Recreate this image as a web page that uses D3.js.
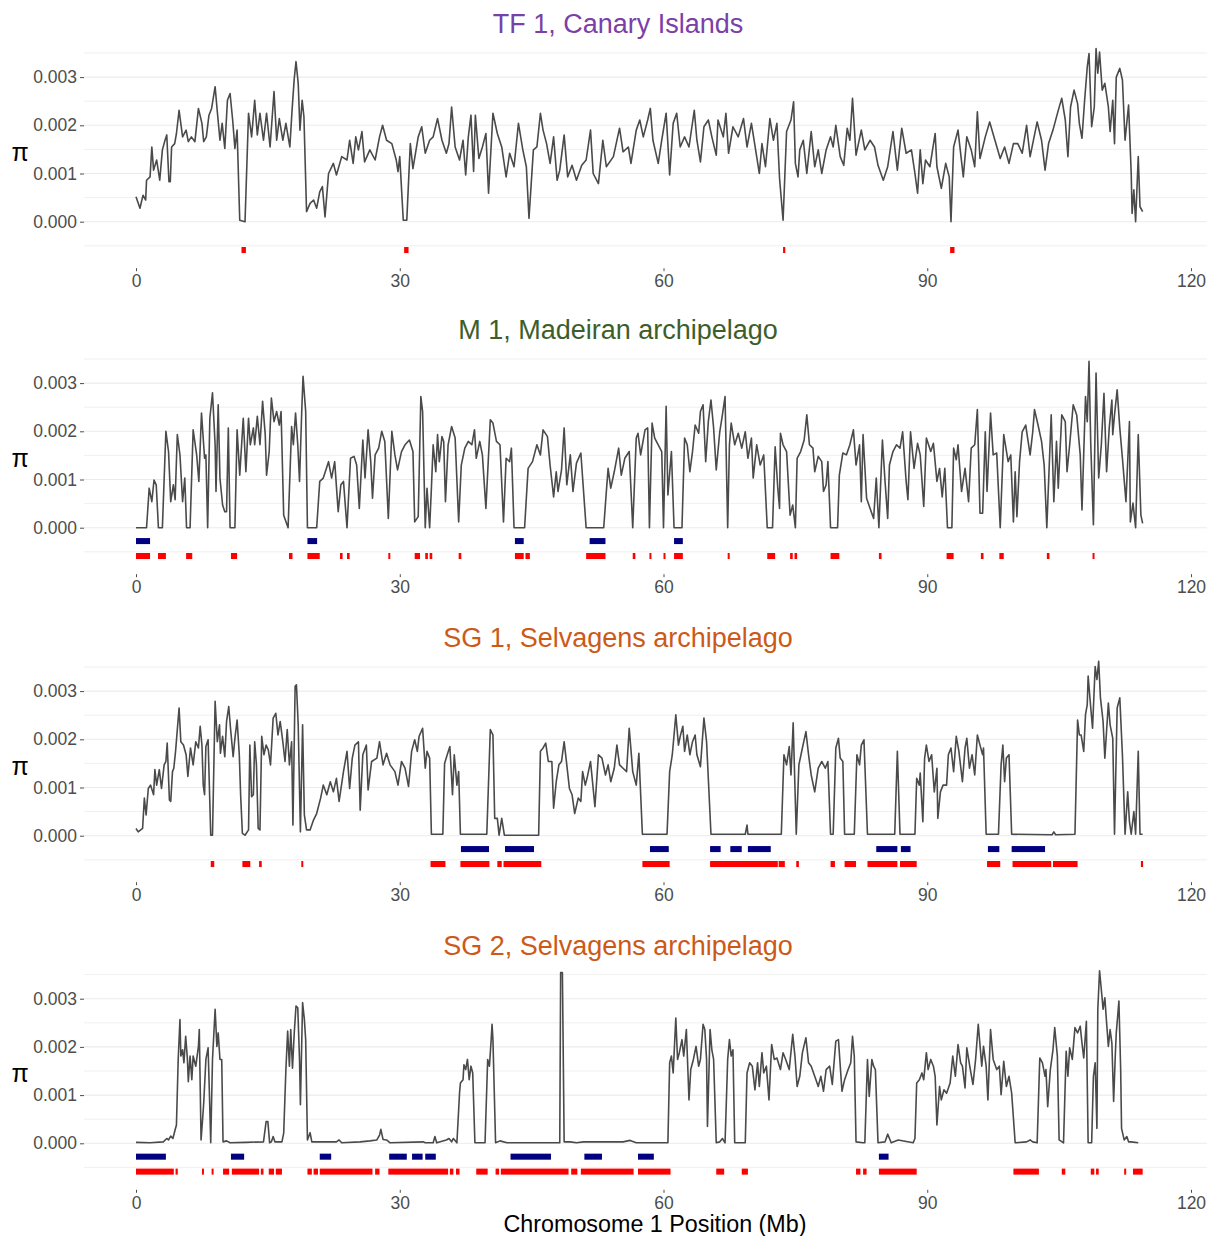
<!DOCTYPE html>
<html>
<head>
<meta charset="utf-8">
<script src="https://cdn.jsdelivr.net/npm/d3@7"></script>
<style>
  body { margin: 0; background: #fff; }
  svg { display: block; font-family: "Liberation Sans", Arial, Helvetica, sans-serif; }
  .grid line { stroke: #ebebeb; }
  .axis text { fill: #4d4d4d; font-size: 17.5px; }
  .axis line { stroke: #4d4d4d; }
  .axis path { display: none; }
</style>
</head>
<body>
<div id="chart"></div>
<script>
// pi values are in thousandths (1.5 = 0.0015), positions in Mb
const titles = ["TF 1, Canary Islands", "M 1, Madeiran archipelago", "SG 1, Selvagens archipelago", "SG 2, Selvagens archipelago"];
const titleColors = ["#7b3fa8", "#3d5e2a", "#cc5a16", "#cc5a16"];
const xTicks = [0, 30, 60, 90, 120];
const yTicks = [0, 1, 2, 3];
const yTickLabels = ["0.000", "0.001", "0.002", "0.003"];
const gridVals = [-0.5, 0, 0.5, 1, 1.5, 2, 2.5, 3, 3.5];

const tf1Line = [[0,0.52],[0.45,0.28],[0.8,0.55],[1.1,0.45],[1.2,0.86],[1.6,0.93],[1.8,1.55],[2.0,1.07],[2.35,1.28],[2.7,0.86],[3.0,1.49],[3.3,1.69],[3.5,1.8],[3.75,0.83],[3.9,0.83],[4.05,1.55],[4.4,1.62],[4.6,1.83],[4.9,2.31],[5.3,1.76],[5.7,1.9],[5.95,1.66],[6.3,1.76],[6.7,1.66],[7.1,2.35],[7.5,2.04],[7.7,1.66],[8.0,1.76],[8.3,2.21],[8.6,2.35],[9.0,2.8],[9.25,2.28],[9.55,1.69],[9.8,2.04],[10.1,1.52],[10.4,2.52],[10.7,2.66],[11.0,2.1],[11.25,1.52],[11.5,1.9],[11.8,0.03],[12.4,0.0],[12.8,2.25],[13.15,1.76],[13.5,2.52],[13.8,1.8],[14.1,2.25],[14.5,1.69],[14.85,2.25],[15.25,1.55],[15.7,2.7],[16.0,1.69],[16.3,2.14],[16.7,1.69],[17.05,2.04],[17.5,1.55],[17.75,2.31],[18.0,2.97],[18.2,3.32],[18.45,2.87],[18.65,1.9],[18.9,2.52],[19.1,2.18],[19.4,0.21],[19.8,0.38],[20.2,0.45],[20.55,0.28],[20.9,0.62],[21.2,0.73],[21.5,0.1],[21.9,1.0],[22.45,1.21],[22.8,0.97],[23.4,1.35],[24.0,1.28],[24.3,1.69],[24.7,1.21],[25.0,1.76],[25.3,1.49],[25.7,1.87],[26.0,1.24],[26.6,1.49],[27.2,1.28],[27.7,1.76],[28.05,2.0],[28.5,1.69],[29.1,1.62],[29.6,1.28],[29.8,1.04],[30.0,1.35],[30.4,0.03],[30.8,0.03],[31.2,1.62],[31.5,1.1],[32.1,1.76],[32.5,1.97],[32.9,1.42],[33.4,1.69],[33.8,1.76],[34.3,2.14],[34.8,1.69],[35.3,1.42],[35.6,1.62],[35.9,2.38],[36.3,1.55],[36.8,1.28],[37.2,1.69],[37.5,0.97],[37.8,1.76],[38.1,2.21],[38.4,1.04],[38.6,2.21],[39.0,1.31],[39.4,1.55],[39.8,1.83],[40.1,0.59],[40.6,2.25],[41.1,1.83],[41.6,1.55],[42.1,0.93],[42.5,1.42],[43.0,1.14],[43.5,2.04],[44.0,1.49],[44.4,1.14],[44.7,0.07],[45.2,1.49],[45.6,1.55],[46.0,2.25],[46.3,1.9],[46.7,1.62],[47.1,1.21],[47.5,1.76],[47.9,0.86],[48.2,1.07],[48.7,1.8],[49.1,0.93],[49.6,1.17],[50.1,0.86],[50.7,1.17],[51.2,1.28],[51.7,1.9],[52.0,1.0],[52.6,0.79],[53.1,1.69],[53.5,1.14],[54.3,1.35],[55.0,1.94],[55.4,1.45],[56.0,1.55],[56.3,1.21],[56.9,1.9],[57.3,2.11],[57.7,1.76],[58.2,2.11],[58.5,2.35],[58.8,1.69],[59.4,1.21],[59.8,1.69],[60.3,2.25],[60.7,0.97],[61.1,2.04],[61.5,2.25],[61.9,1.55],[62.4,1.76],[62.9,1.55],[63.5,2.31],[63.8,1.69],[64.2,1.24],[64.6,1.97],[65.1,2.11],[65.5,1.76],[66.0,1.38],[66.2,2.11],[66.8,1.76],[67.1,2.25],[67.4,1.42],[67.9,1.97],[68.5,1.76],[69.1,2.14],[69.5,1.55],[70.0,2.04],[70.6,1.35],[70.9,1.0],[71.2,1.62],[71.6,1.14],[72.1,2.14],[72.5,1.69],[72.9,2.04],[73.2,0.9],[73.6,0.03],[74.0,1.87],[74.5,2.11],[74.8,2.49],[75.0,1.21],[75.3,0.93],[75.5,1.49],[75.9,1.69],[76.3,1.0],[76.8,1.87],[77.2,1.14],[77.6,1.49],[78.0,1.0],[78.5,1.49],[79.0,1.76],[79.3,1.55],[79.6,2.0],[80.1,1.35],[80.5,1.17],[80.9,1.94],[81.2,1.69],[81.5,2.56],[81.9,1.38],[82.5,1.9],[82.9,1.49],[83.5,1.69],[84.0,1.55],[84.4,1.17],[85.0,0.86],[85.5,1.14],[86.1,1.87],[86.6,1.07],[87.1,1.94],[87.6,1.42],[88.2,1.49],[88.6,1.0],[88.9,0.59],[89.2,1.49],[89.5,0.79],[89.8,1.28],[90.3,1.14],[90.9,1.83],[91.1,1.14],[91.6,0.69],[92.1,1.21],[92.5,0.93],[92.7,0.0],[93.0,1.55],[93.5,1.9],[94.1,0.93],[94.5,1.76],[95.0,1.49],[95.4,1.14],[95.7,2.28],[96.0,1.31],[96.6,1.76],[97.1,2.07],[97.7,1.69],[98.3,1.31],[98.8,1.55],[99.3,1.21],[99.8,1.62],[100.3,1.62],[100.8,1.42],[101.3,2.0],[101.7,1.35],[102.5,2.07],[103.0,1.69],[103.4,1.07],[103.8,1.62],[104.3,1.9],[104.9,2.31],[105.3,2.56],[105.7,2.11],[106.0,1.35],[106.3,2.38],[106.7,2.73],[107.1,2.45],[107.3,2.04],[107.6,1.73],[107.9,2.52],[108.2,3.21],[108.4,3.49],[108.7,1.97],[109.0,2.38],[109.2,3.59],[109.4,3.08],[109.6,3.52],[109.9,2.73],[110.2,2.87],[110.6,2.38],[110.8,1.87],[111.1,2.52],[111.3,1.62],[111.5,3.0],[111.9,3.18],[112.2,2.94],[112.5,1.69],[112.9,2.42],[113.2,1.0],[113.3,0.17],[113.5,0.66],[113.7,0.0],[114.0,1.35],[114.2,0.31],[114.5,0.21]];

const m1Line = [[0,0],[1.2,0],[1.5,0.82],[1.8,0.54],[2.05,0.99],[2.3,0.89],[2.55,0],[3.0,0],[3.4,2.0],[3.7,1.58],[3.95,0.54],[4.25,0.89],[4.45,0.58],[4.7,1.93],[5.0,1.51],[5.3,0.54],[5.55,1.03],[5.75,0],[6.15,0],[6.5,2.03],[6.9,1.51],[7.15,0.96],[7.45,2.38],[7.8,1.44],[7.95,1.51],[8.15,0],[8.4,2.27],[8.7,2.8],[9.0,1.72],[9.1,0.75],[9.35,2.55],[9.55,1.03],[9.85,0.47],[10.1,0.33],[10.3,0.33],[10.5,2.07],[10.7,0],[11.25,0],[11.5,2.03],[11.8,1.09],[12.2,2.27],[12.5,1.16],[12.8,2.27],[13.0,1.72],[13.35,2.07],[13.5,1.72],[13.8,2.31],[14.1,1.72],[14.4,2.62],[14.7,1.93],[14.85,1.09],[15.15,1.58],[15.4,2.69],[15.7,2.2],[16.0,2.41],[16.3,2.13],[16.5,2.41],[16.8,0.26],[17.3,0],[17.7,2.1],[17.9,1.72],[18.15,2.38],[18.4,1.72],[18.6,0.96],[18.85,2.41],[19.0,3.14],[19.3,2.41],[19.5,0],[20.55,0],[20.9,0.96],[21.3,1.03],[21.9,1.37],[22.25,1.03],[22.6,1.37],[23.0,0.33],[23.3,0.89],[23.6,0.96],[24.0,0],[24.4,1.44],[24.8,1.48],[25.1,1.3],[25.4,0.4],[25.8,1.82],[26.05,1.03],[26.4,2.03],[26.7,1.37],[26.9,0.61],[27.2,1.51],[27.6,1.65],[27.95,2.0],[28.3,1.79],[28.7,0.19],[29.1,2.0],[29.45,1.51],[29.75,1.2],[30.2,1.58],[30.6,1.72],[31.1,1.82],[31.5,1.58],[31.7,0.12],[32.1,0.23],[32.4,2.72],[32.6,2.41],[32.9,0],[33.1,0.82],[33.4,0],[33.6,0.82],[33.8,1.72],[34.1,1.16],[34.3,1.93],[34.5,1.37],[34.8,1.89],[35.0,1.79],[35.2,0.54],[35.5,1.72],[35.9,2.1],[36.3,1.86],[36.7,0.12],[37.0,1.3],[37.4,1.65],[37.8,1.79],[38.2,1.72],[38.5,2.03],[38.7,1.44],[39.1,1.79],[39.4,1.51],[39.8,0.4],[40.3,2.24],[40.6,2.17],[41.0,1.79],[41.4,1.72],[41.8,0.12],[42.1,1.44],[42.5,1.37],[42.7,1.65],[43.0,0],[44.2,0],[44.6,1.23],[45.1,1.37],[45.6,1.72],[46.0,1.51],[46.3,2.03],[46.8,1.89],[47.1,1.3],[47.5,0.64],[47.8,1.16],[48.0,0.75],[48.4,1.2],[48.7,2.07],[49.0,0.89],[49.4,1.51],[49.7,0.75],[50.1,1.34],[50.6,1.55],[50.8,1.03],[51.2,0],[53.2,0],[53.5,0.75],[53.7,1.23],[54.0,0.82],[54.4,1.16],[54.9,1.65],[55.2,1.09],[55.6,1.44],[56.1,1.58],[56.5,0],[56.9,1.86],[57.1,1.96],[57.4,1.51],[57.6,1.72],[57.9,2.03],[58.2,2.07],[58.4,0],[58.7,2.17],[59.0,1.86],[59.4,1.72],[59.8,1.58],[60.0,0],[60.3,2.52],[60.5,0.68],[60.9,1.58],[61.2,0],[62.1,0],[62.4,1.86],[62.7,1.72],[63.0,1.16],[63.3,1.58],[63.6,2.13],[64.0,1.96],[64.2,2.41],[64.5,2.55],[64.8,1.37],[65.1,2.2],[65.4,2.65],[65.7,2.07],[66.0,1.2],[66.4,1.99],[66.7,2.34],[67.0,2.72],[67.3,0],[67.5,1.72],[67.7,2.17],[68.1,1.72],[68.5,1.96],[68.9,1.65],[69.3,1.99],[69.6,1.44],[70.0,1.86],[70.2,1.03],[70.6,1.72],[71.0,1.3],[71.4,1.51],[71.8,0],[72.4,0],[72.7,1.68],[73.0,0.82],[73.2,0.4],[73.3,1.96],[73.6,1.72],[74.0,1.58],[74.4,0.26],[74.7,0.47],[75.0,0],[75.2,1.44],[75.6,1.58],[76.0,1.82],[76.3,2.34],[76.6,1.72],[77.0,1.65],[77.2,1.16],[77.6,1.48],[78.0,1.37],[78.2,0.75],[78.5,0.89],[78.7,1.37],[79.0,0],[79.8,0],[80.0,1.09],[80.4,1.55],[80.8,1.51],[81.2,1.72],[81.6,2.03],[81.9,1.3],[82.3,1.72],[82.5,0.54],[82.7,1.93],[83.1,0.61],[83.5,0.4],[83.9,0.19],[84.2,1.03],[84.5,0],[84.9,1.82],[85.2,0.96],[85.5,0.19],[85.7,1.3],[86.1,1.58],[86.5,1.72],[86.9,1.65],[87.2,1.99],[87.6,0.96],[87.8,0.58],[88.1,1.99],[88.5,1.23],[88.9,1.75],[89.2,1.51],[89.6,0.44],[89.9,1.86],[90.4,1.58],[90.7,1.75],[91.1,0.96],[91.4,1.23],[91.7,0.64],[92.0,1.23],[92.3,0],[92.8,0],[93.0,1.65],[93.3,1.41],[93.5,1.72],[93.9,0.75],[94.3,1.23],[94.7,0.54],[95.0,1.65],[95.4,1.72],[95.7,2.45],[96.0,0.3],[96.3,0.3],[96.6,1.99],[96.8,0.75],[97.2,2.38],[97.5,1.51],[97.9,1.55],[98.3,0],[98.7,1.93],[99.2,1.37],[99.5,1.51],[99.8,0.12],[100.0,1.16],[100.2,0.23],[100.5,1.37],[100.8,1.99],[101.2,2.13],[101.7,1.51],[102.0,1.99],[102.2,2.45],[102.6,2.13],[103.0,1.79],[103.3,1.3],[103.6,0],[104.1,2.34],[104.4,0.54],[104.7,1.79],[104.9,0.82],[105.3,2.34],[105.7,2.2],[105.9,1.16],[106.2,1.72],[106.6,2.55],[107.0,2.34],[107.4,1.51],[107.6,0.37],[108.0,2.72],[108.2,2.2],[108.4,3.45],[108.6,1.72],[108.9,0.06],[109.2,3.21],[109.5,1.03],[109.8,1.72],[110.1,2.79],[110.4,1.16],[110.7,2.07],[111.0,2.65],[111.1,1.93],[111.3,2.34],[111.6,2.86],[111.9,2.07],[112.2,1.44],[112.6,0.54],[113.0,2.2],[113.1,0.12],[113.4,0.51],[113.7,0],[114.0,1.93],[114.3,0.26],[114.5,0.09]];

const sg1Line = [[0,0.15],[0.25,0.08],[0.75,0.15],[0.95,0.78],[1.15,0.43],[1.4,0.98],[1.65,1.05],[2.0,0.85],[2.15,1.37],[2.35,1.05],[2.65,1.37],[2.9,0.98],[3.2,1.47],[3.4,1.54],[3.55,1.92],[3.8,0.74],[3.95,0.71],[4.15,1.33],[4.3,1.4],[4.5,1.75],[4.7,2.2],[4.9,2.65],[5.1,1.95],[5.4,1.88],[5.7,1.68],[5.9,1.23],[6.2,1.82],[6.5,1.47],[6.8,1.95],[7.1,1.82],[7.3,2.27],[7.5,1.88],[7.65,1.05],[7.8,0.85],[7.95,1.85],[8.2,1.99],[8.5,0.01],[8.7,0.01],[9.0,2.79],[9.25,1.95],[9.5,2.3],[9.6,1.71],[9.85,2.06],[10.1,1.64],[10.3,2.37],[10.55,2.68],[10.75,2.23],[11.05,1.64],[11.25,2.02],[11.5,2.4],[11.75,1.68],[11.9,0.85],[12.1,0.05],[12.4,0.01],[12.8,0.12],[12.95,1.88],[13.15,0.81],[13.35,0.85],[13.5,1.95],[13.7,1.47],[13.9,0.15],[14.1,0.12],[14.3,2.06],[14.55,1.68],[14.8,1.88],[15.05,1.78],[15.3,1.47],[15.6,2.44],[15.9,2.54],[16.15,2.09],[16.4,2.37],[16.7,1.95],[16.95,1.54],[17.2,2.2],[17.45,1.47],[17.7,1.95],[17.85,0.22],[18.1,3.1],[18.25,3.13],[18.45,2.3],[18.7,0.08],[18.95,2.3],[19.15,0.43],[19.4,0.12],[19.8,0.12],[20.2,0.33],[20.55,0.46],[21.0,0.78],[21.3,1.05],[21.7,0.85],[22.1,1.12],[22.45,0.91],[22.8,1.19],[23.1,0.71],[23.6,1.33],[24.0,1.75],[24.3,0.98],[24.6,1.61],[24.9,1.88],[25.3,1.95],[25.5,0.53],[25.8,1.68],[26.2,1.88],[26.4,0.95],[26.8,1.54],[27.4,1.61],[27.7,1.95],[28.1,1.47],[28.5,1.71],[28.9,1.47],[29.45,1.33],[29.8,1.05],[30.2,1.54],[30.6,1.4],[31.0,1.02],[31.35,1.75],[31.7,1.99],[32.0,1.75],[32.2,2.06],[32.6,2.23],[32.9,1.4],[33.1,1.75],[33.4,1.61],[33.6,0.03],[34.9,0.03],[35.1,1.5],[35.4,1.68],[35.7,1.85],[36.0,0.85],[36.2,1.68],[36.5,1.05],[36.7,1.33],[36.9,0.03],[39.9,0.03],[40.3,2.2],[40.6,2.09],[40.8,0.36],[41.1,0.36],[41.3,0.01],[41.6,0.36],[41.9,0.01],[45.8,0.01],[46.0,1.75],[46.3,1.82],[46.6,1.92],[46.9,1.54],[47.3,1.54],[47.5,0.57],[47.8,1.12],[48.1,1.47],[48.4,1.54],[48.7,1.95],[49.0,1.47],[49.3,0.98],[49.6,0.85],[49.9,0.46],[50.3,0.78],[50.6,0.71],[50.8,1.33],[51.1,1.05],[51.3,1.19],[51.7,1.54],[52.0,0.98],[52.2,0.6],[52.6,1.68],[53.0,1.61],[53.4,1.26],[53.7,1.47],[54.0,1.12],[54.4,1.4],[54.7,1.88],[55.0,1.47],[55.4,1.4],[55.8,1.33],[56.1,2.23],[56.5,1.33],[56.9,1.05],[57.2,1.71],[57.6,0.03],[60.4,0.03],[60.7,1.33],[61.0,1.68],[61.2,2.09],[61.4,2.51],[61.7,1.88],[61.9,2.06],[62.2,2.27],[62.4,1.75],[62.7,2.09],[63.0,1.68],[63.3,1.95],[63.6,2.09],[63.8,1.68],[64.2,1.43],[64.6,2.44],[64.9,1.95],[65.4,0.03],[69.3,0.03],[69.5,0.22],[69.6,0.03],[73.4,0.03],[73.7,1.68],[74.0,1.47],[74.3,1.85],[74.5,1.26],[74.75,2.34],[75.1,0.03],[75.4,1.47],[75.8,1.82],[76.2,2.16],[76.5,1.68],[76.8,1.26],[77.2,0.91],[77.6,1.4],[78.0,1.54],[78.4,1.4],[78.7,1.54],[79.0,0.03],[79.3,0.03],[79.6,1.82],[79.9,2.02],[80.1,1.61],[80.4,1.54],[80.6,0.03],[81.7,0.03],[82.0,1.68],[82.3,1.47],[82.5,1.88],[82.8,1.99],[83.2,0.03],[86.3,0.03],[86.6,1.75],[86.9,0.03],[88.6,0.03],[88.8,1.19],[89.1,1.05],[89.2,1.3],[89.5,0.29],[89.7,1.61],[89.9,1.88],[90.2,1.54],[90.5,1.68],[90.8,0.91],[91.1,1.4],[91.2,0.36],[91.5,0.91],[91.8,1.05],[92.2,1.05],[92.4,1.68],[92.7,1.82],[93.0,1.33],[93.3,2.06],[93.6,1.75],[94.0,1.12],[94.3,1.82],[94.5,2.02],[94.8,1.4],[95.1,1.68],[95.4,1.26],[95.7,2.09],[96.0,1.88],[96.3,1.68],[96.4,1.82],[96.7,0.03],[98.1,0.03],[98.4,1.47],[98.6,1.88],[98.8,1.12],[99.0,1.61],[99.3,1.68],[99.6,0.03],[104.2,0.02],[104.4,0.08],[104.6,0.02],[106.8,0.03],[107.1,2.4],[107.3,2.09],[107.5,2.09],[107.8,1.75],[108.0,2.51],[108.2,2.72],[108.3,3.31],[108.6,2.65],[108.8,2.23],[109.1,3.51],[109.3,3.24],[109.5,3.62],[109.7,2.86],[110.0,2.37],[110.2,1.61],[110.6,2.75],[110.8,2.3],[111.1,2.02],[111.3,0.03],[111.6,2.65],[111.9,2.86],[112.2,1.68],[112.5,0.03],[112.8,0.91],[113.0,0.29],[113.2,0.03],[113.5,0.5],[113.7,0.03],[114.0,1.75],[114.2,0.03],[114.5,0.03]];

const sg2Line = [[0,0.02],[1.6,0.01],[3.1,0.03],[3.5,0.1],[3.7,0.07],[3.95,0.15],[4.2,0.1],[4.45,0.28],[4.6,0.38],[4.8,1.74],[5.0,2.57],[5.1,1.81],[5.3,1.94],[5.45,1.67],[5.65,2.22],[5.85,1.74],[5.95,1.28],[6.15,1.81],[6.35,1.32],[6.5,1.81],[6.8,1.6],[7.1,2.01],[7.2,2.36],[7.4,0.07],[7.6,0.56],[7.7,0.83],[7.95,1.74],[8.2,1.98],[8.35,1.04],[8.5,0.01],[8.7,1.74],[9.0,2.78],[9.2,2.01],[9.35,2.29],[9.55,1.74],[9.75,1.74],[9.9,0.03],[10.3,0.05],[10.7,0.01],[12.5,0.02],[14.5,0.03],[14.8,0.45],[15.0,0.45],[15.2,0.01],[15.4,0.03],[15.6,0.14],[15.8,0.03],[16.6,0.03],[16.8,0.21],[17.05,1.53],[17.25,2.33],[17.45,1.6],[17.6,2.36],[17.8,1.56],[18.0,2.29],[18.2,2.85],[18.4,2.81],[18.6,1.74],[18.7,0.8],[18.95,2.92],[19.15,2.57],[19.3,2.15],[19.5,0.07],[19.8,0.22],[20.0,0.03],[22.8,0.03],[23.1,0.07],[23.4,0.01],[25.5,0.03],[26.6,0.05],[27.4,0.07],[27.7,0.17],[27.85,0.29],[28.1,0.08],[28.5,0.07],[28.9,0.01],[32.7,0.03],[32.9,0.01],[33.8,0.01],[34.0,0.14],[34.2,0.01],[35.3,0.07],[35.6,0.1],[35.9,0.03],[36.1,0.1],[36.5,0.01],[36.8,1.04],[36.9,1.25],[37.2,1.32],[37.3,1.63],[37.5,1.53],[37.7,1.74],[37.9,1.32],[38.1,1.6],[38.3,1.46],[38.55,0.01],[39.7,0.01],[40.0,1.74],[40.2,1.6],[40.4,2.15],[40.5,2.47],[40.6,2.15],[40.9,0.01],[41.4,0.05],[42.2,0.01],[48.2,0.01],[48.3,3.54],[48.5,3.54],[48.7,0.03],[49.4,0.03],[50.1,0.01],[50.9,0.03],[53.9,0.03],[54.7,0.03],[55.4,0.03],[56.2,0.06],[56.9,0.01],[60.5,0.01],[60.7,1.67],[60.9,1.81],[61.1,1.46],[61.4,2.6],[61.6,1.74],[61.8,1.88],[62.1,2.15],[62.3,1.81],[62.6,2.36],[62.9,0.9],[63.1,1.53],[63.4,1.74],[63.7,2.01],[64.0,1.6],[64.2,1.74],[64.5,2.47],[64.7,2.36],[64.9,1.74],[65.0,0.35],[65.3,2.36],[65.5,1.94],[65.7,1.74],[66.0,0.01],[66.4,0.03],[66.7,0.1],[67.0,0.01],[67.3,1.74],[67.5,2.15],[67.7,1.81],[67.9,1.94],[68.1,0.01],[69.3,0.01],[69.5,1.46],[69.8,1.67],[70.1,1.6],[70.4,1.11],[70.7,1.67],[70.9,1.18],[71.2,1.88],[71.4,1.46],[71.7,1.6],[72.0,0.9],[72.3,2.05],[72.6,1.74],[72.9,1.77],[73.3,1.53],[73.6,1.88],[73.9,1.74],[74.3,1.53],[74.7,2.26],[74.95,1.81],[75.2,1.18],[75.5,1.39],[75.8,1.88],[76.2,2.19],[76.5,1.67],[76.8,1.6],[77.2,1.39],[77.6,1.18],[77.9,1.39],[78.2,1.08],[78.5,1.53],[78.9,1.6],[79.2,1.22],[79.6,2.12],[79.9,2.15],[80.3,1.08],[80.6,1.32],[81.0,1.53],[81.3,1.67],[81.5,2.22],[81.7,1.81],[81.9,0.03],[82.7,0.01],[82.9,0.01],[83.2,1.74],[83.4,0.97],[83.7,1.74],[83.9,1.6],[84.1,1.53],[84.4,0.01],[85.2,0.03],[85.5,0.19],[85.9,0.01],[86.7,0.07],[88.4,0.01],[88.6,0.1],[88.8,1.25],[89.1,1.32],[89.4,1.46],[89.6,1.32],[89.9,1.88],[90.1,1.53],[90.4,1.74],[90.7,1.6],[90.9,1.39],[91.1,0.38],[91.4,1.18],[91.6,0.9],[91.9,1.11],[92.2,1.04],[92.6,1.25],[92.9,1.81],[93.2,1.39],[93.5,2.05],[93.8,1.67],[94.0,1.6],[94.3,1.15],[94.5,1.98],[94.9,1.53],[95.2,1.22],[95.5,1.74],[95.8,2.47],[96.2,1.6],[96.4,2.01],[96.7,1.6],[96.9,0.9],[97.2,2.36],[97.5,1.74],[97.9,1.53],[98.2,1.6],[98.4,1.01],[98.7,1.7],[99.0,1.18],[99.3,1.39],[99.6,1.04],[100.0,0.01],[101.3,0.03],[101.7,0.07],[102.0,0.03],[102.5,0.01],[102.8,1.77],[103.1,1.67],[103.4,1.39],[103.5,1.53],[103.7,0.76],[104.0,1.53],[104.3,1.94],[104.5,2.4],[104.8,1.81],[105.0,0.07],[105.5,0.01],[105.8,1.91],[106.0,1.39],[106.2,1.98],[106.5,1.74],[106.8,2.4],[107.1,2.29],[107.4,2.43],[107.6,2.08],[107.8,1.77],[108.1,2.53],[108.3,0.01],[108.7,0.01],[108.9,1.39],[109.1,1.67],[109.3,0.31],[109.4,2.78],[109.6,3.58],[109.8,3.19],[110.0,2.78],[110.2,3.02],[110.4,2.5],[110.6,2.01],[110.8,2.36],[111.0,2.08],[111.2,0.87],[111.4,1.88],[111.5,2.29],[111.8,2.95],[112.0,1.53],[112.1,0.31],[112.4,0.07],[112.7,0.14],[112.9,0.03],[113.2,0.03],[114.0,0.01]];

// blue and red windows, [start Mb, end Mb]
const tf1Blue = [];
const tf1Red = [[12.0,12.5],[30.5,31.0],[73.6,73.85],[92.6,93.1]];
const m1Blue = [[0,1.6],[19.5,20.6],[43.1,44.1],[51.6,53.4],[61.2,62.2]];
const m1Red = [[0,1.6],[2.5,3.4],[5.7,6.4],[10.8,11.5],[17.4,17.8],[19.5,20.9],[23.2,23.5],[24.0,24.3],[28.7,28.9],[31.7,32.3],[32.9,33.2],[33.4,33.7],[36.7,37.0],[43.1,44.1],[44.3,44.8],[51.2,53.4],[56.5,56.8],[58.4,58.6],[60.0,60.2],[61.2,62.2],[67.3,67.5],[71.8,72.7],[74.4,74.7],[74.9,75.2],[79.0,80.0],[84.5,84.8],[92.2,93.0],[96.1,96.4],[98.2,98.7],[103.6,103.9],[108.8,109.0]];
const sg1Blue = [[36.96,40.15],[41.97,45.27],[58.46,60.6],[65.3,66.5],[67.6,68.9],[69.6,72.2],[84.2,86.6],[87.0,88.1],[96.9,98.2],[99.6,103.4]];
const sg1Red = [[8.5,8.9],[12.1,13.0],[14.0,14.3],[18.8,19.0],[33.5,35.2],[36.9,40.2],[41.1,41.6],[41.8,46.1],[57.6,60.7],[65.3,73.0],[73.1,73.8],[75.1,75.4],[79.0,79.5],[80.6,81.9],[83.2,86.6],[86.9,88.8],[96.8,98.3],[99.7,104.1],[104.3,107.1],[114.3,114.55]];
const sg2Blue = [[0,3.4],[10.8,12.3],[20.9,22.2],[28.8,30.8],[31.4,32.6],[32.9,34.1],[42.6,47.2],[51.0,53.0],[57.1,58.9],[84.5,85.6]];
const sg2Red = [[0,4.3],[4.5,4.75],[7.5,7.7],[8.6,8.8],[9.9,10.6],[10.9,14.0],[14.2,14.5],[15.1,15.7],[15.9,16.6],[19.5,20.0],[20.2,20.7],[20.9,26.9],[27.2,27.7],[28.7,35.5],[35.7,36.1],[36.4,36.8],[38.7,40.0],[40.9,41.3],[41.5,49.2],[49.5,50.2],[50.6,56.6],[57.1,60.8],[66.0,66.9],[68.9,69.6],[81.9,82.4],[82.7,83.1],[84.5,88.8],[99.8,102.7],[105.3,105.7],[108.6,109.0],[109.2,109.5],[112.4,112.6],[113.4,114.5]];

const lines = [tf1Line, m1Line, sg1Line, sg2Line];
const blues = [tf1Blue, m1Blue, sg1Blue, sg2Blue];
const reds = [tf1Red, m1Red, sg1Red, sg2Red];

const W = 1207, H = 1236;
const zeroY = [221.7, 527.7, 835.7, 1143.3];   // pixel row of pi = 0 in each panel
const panelLeft = 84, panelRight = 1207;

const svg = d3.select("#chart").append("svg")
    .attr("width", W)
    .attr("height", H);

const x = d3.scaleLinear().domain([0, 120]).range([136, 1191]);

titles.forEach((title, i) => {
    const z = zeroY[i];
    const y = d3.scaleLinear().domain([0, 3]).range([z, z - 144.6]);
    const g = svg.append("g");

    // horizontal grid (major + minor)
    g.append("g").attr("class", "grid")
        .selectAll("line")
        .data(gridVals)
        .join("line")
        .attr("x1", panelLeft).attr("x2", panelRight)
        .attr("y1", d => y(d)).attr("y2", d => y(d))
        .attr("stroke-width", d => Number.isInteger(d) ? 1.1 : 0.8);

    // windows
    g.append("g").selectAll("rect")
        .data(blues[i])
        .join("rect")
        .attr("x", d => x(d[0]))
        .attr("width", d => Math.max(x(d[1]) - x(d[0]), 2))
        .attr("y", y(-0.215))
        .attr("height", y(-0.34) - y(-0.215))
        .attr("fill", "#000080");

    g.append("g").selectAll("rect")
        .data(reds[i])
        .join("rect")
        .attr("x", d => x(d[0]))
        .attr("width", d => Math.max(x(d[1]) - x(d[0]), 2))
        .attr("y", y(-0.525))
        .attr("height", y(-0.65) - y(-0.525))
        .attr("fill", "#ff0000");

    // pi line
    const line = d3.line()
        .x(d => x(d[0]))
        .y(d => y(d[1]));

    g.append("path")
        .datum(lines[i])
        .attr("d", line)
        .attr("fill", "none")
        .attr("stroke", "#4a4a4a")
        .attr("stroke-width", 1.6)
        .attr("stroke-linejoin", "round");

    // axes
    const yAxis = d3.axisLeft(y)
        .tickValues(yTicks)
        .tickFormat((d, k) => yTickLabels[k])
        .tickSize(4)
        .tickPadding(3);
    g.append("g").attr("class", "axis")
        .attr("transform", "translate(" + panelLeft + ",0)")
        .call(yAxis);

    const xAxis = d3.axisBottom(x)
        .tickValues(xTicks)
        .tickSize(3)
        .tickPadding(3.5);
    g.append("g").attr("class", "axis")
        .attr("transform", "translate(0," + (z + 46.5) + ")")
        .call(xAxis);

    // titles
    g.append("text")
        .attr("x", 618)
        .attr("y", z - 188.3)
        .attr("text-anchor", "middle")
        .attr("font-size", 27)
        .attr("fill", titleColors[i])
        .text(title);

    g.append("text")
        .attr("x", 20)
        .attr("y", z - 61)
        .attr("text-anchor", "middle")
        .attr("font-size", 25)
        .attr("fill", "#000")
        .text("π");
});

svg.append("text")
    .attr("x", 655)
    .attr("y", 1232)
    .attr("text-anchor", "middle")
    .attr("font-size", 23.3)
    .attr("fill", "#000")
    .text("Chromosome 1 Position (Mb)");
</script>
</body>
</html>
